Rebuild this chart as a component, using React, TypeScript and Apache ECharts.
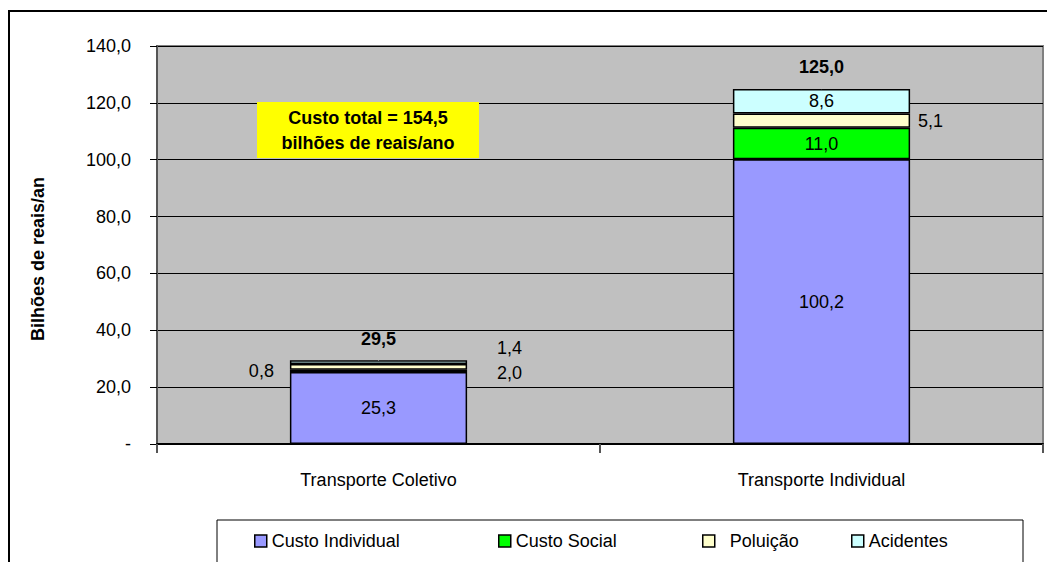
import React, { useEffect, useRef } from "react";
import * as echarts from "echarts";

const categories = ["Transporte Coletivo", "Transporte Individual"];
const custoIndividual = [25.3, 100.2];
const custoSocial = [0.8, 11.0];
const poluicao = [2.0, 5.1];
const acidentes = [1.4, 8.6];
const totals = [29.5, 125.0];
const yTicks = { min: 0, max: 140, interval: 20 };

const FONT = "'Liberation Sans', Arial, sans-serif";
const FS = 18;

const fmt = (v: number) => (v === 0 ? "-" : v.toFixed(1).replace(".", ","));

export default function App() {
  const ref = useRef<HTMLDivElement>(null);
  useEffect(() => {
    if (!ref.current) return;
    const chart = echarts.init(ref.current, undefined, { renderer: "svg" });
    const baseLabel = {
      show: true,
      color: "#000",
      fontFamily: FONT,
      fontSize: FS,
      formatter: (p: any) => fmt(p.value),
    };
    const border = { borderColor: "#000", borderWidth: 1.5 };
    const mk = (name: string, color: string, data: number[], labels: any[]) => ({
      name,
      type: "bar",
      stack: "total",
      barWidth: "40%",
      itemStyle: { color, ...border },
      emphasis: { disabled: true },
      data: data.map((v, i) => ({ value: v, label: { ...baseLabel, ...labels[i] } })),
    });
    const legendItem = (name: string, left: number, gap: number) => ({
      data: [{ name, icon: "rect" }],
      left,
      top: 527,
      itemWidth: 12,
      itemHeight: 12,
      itemStyle: { borderColor: "#000", borderWidth: 1.5 },
      textStyle: { fontFamily: FONT, fontSize: FS, color: "#000", padding: [0, 0, 0, gap] },
      selectedMode: false,
      z: 10,
    });
    chart.setOption({
      animation: false,
      backgroundColor: "#fff",
      textStyle: { fontFamily: FONT },
      grid: {
        left: 157,
        top: 46,
        width: 886,
        height: 398,
        show: true,
        backgroundColor: "#C0C0C0",
        borderColor: "#808080",
        borderWidth: 2,
      },
      xAxis: {
        type: "category",
        data: categories,
        axisLine: { lineStyle: { color: "#000", width: 2 } },
        axisTick: { show: true, length: 9, lineStyle: { color: "#555", width: 2 } },
        axisLabel: { color: "#000", fontSize: FS, fontFamily: FONT, margin: 27 },
      },
      yAxis: {
        type: "value",
        ...yTicks,
        name: "Bilhões de reais/an",
        nameLocation: "middle",
        nameRotate: 90,
        nameGap: 110,
        nameTextStyle: {
          fontFamily: FONT,
          fontSize: FS,
          fontWeight: "bold",
          color: "#000",
          padding: [0, 28, 0, 0],
        },
        axisLine: { show: true, lineStyle: { color: "#555", width: 2 } },
        axisTick: { show: true, length: 7, lineStyle: { color: "#000", width: 1 } },
        axisLabel: { color: "#000", fontSize: FS, fontFamily: FONT, margin: 26, formatter: fmt },
        splitLine: { lineStyle: { color: "#000", width: 1 } },
      },
      legend: [
        legendItem("Custo Individual", 249, 0),
        legendItem("Custo Social", 493, 0),
        legendItem("Poluição", 697, 10),
        legendItem("Acidentes", 846, 0),
      ],
      graphic: [
        {
          type: "rect",
          z: 0,
          silent: true,
          shape: { x: 9, y: 11, width: 1100, height: 600 },
          style: { fill: "none", stroke: "#000", lineWidth: 2 },
        },
        {
          type: "rect",
          z: 1,
          silent: true,
          shape: { x: 217, y: 520, width: 806, height: 60 },
          style: { fill: "#fff", stroke: "#000", lineWidth: 1 },
        },
        {
          type: "rect",
          z: 5,
          silent: true,
          shape: { x: 257, y: 102, width: 222, height: 56 },
          style: { fill: "#FFFF00" },
        },
        {
          type: "text",
          z: 6,
          silent: true,
          x: 368,
          y: 130,
          style: {
            text: "Custo total = 154,5\nbilhões de reais/ano",
            fontFamily: FONT,
            fontSize: FS,
            fontWeight: "bold",
            fill: "#000",
            align: "center",
            verticalAlign: "middle",
            lineHeight: 25,
          },
        },
      ],
      series: [
        mk("Custo Individual", "#9999FF", custoIndividual, [{ position: "inside" }, { position: "inside" }]),
        mk("Custo Social", "#00FF00", custoSocial, [
          { position: "left", distance: 16, offset: [0, 0] },
          { position: "inside" },
        ]),
        mk("Poluição", "#FFFFCC", poluicao, [
          { position: "right", distance: 30, offset: [0, 6] },
          { position: "right", distance: 8, offset: [0, 0] },
        ]),
        mk("Acidentes", "#CCFFFF", acidentes, [
          { position: "right", distance: 30, offset: [0, -14] },
          { position: "inside" },
        ]),
        {
          name: "Total",
          type: "scatter",
          data: totals,
          symbolSize: 1,
          itemStyle: { color: "#C0C0C0", opacity: 1 },
          emphasis: { disabled: true },
          z: 20,
          label: {
            show: true,
            position: "top",
            distance: 12,
            color: "#000",
            opacity: 1,
            fontFamily: FONT,
            fontSize: FS,
            fontWeight: "bold",
            formatter: (p: any) => fmt(p.value),
          },
        },
      ],
    });
    return () => chart.dispose();
  }, []);
  return (
    <div
      ref={ref}
      style={{ position: "fixed", left: 0, top: 0, width: 1047, height: 562 }}
    />
  );
}
